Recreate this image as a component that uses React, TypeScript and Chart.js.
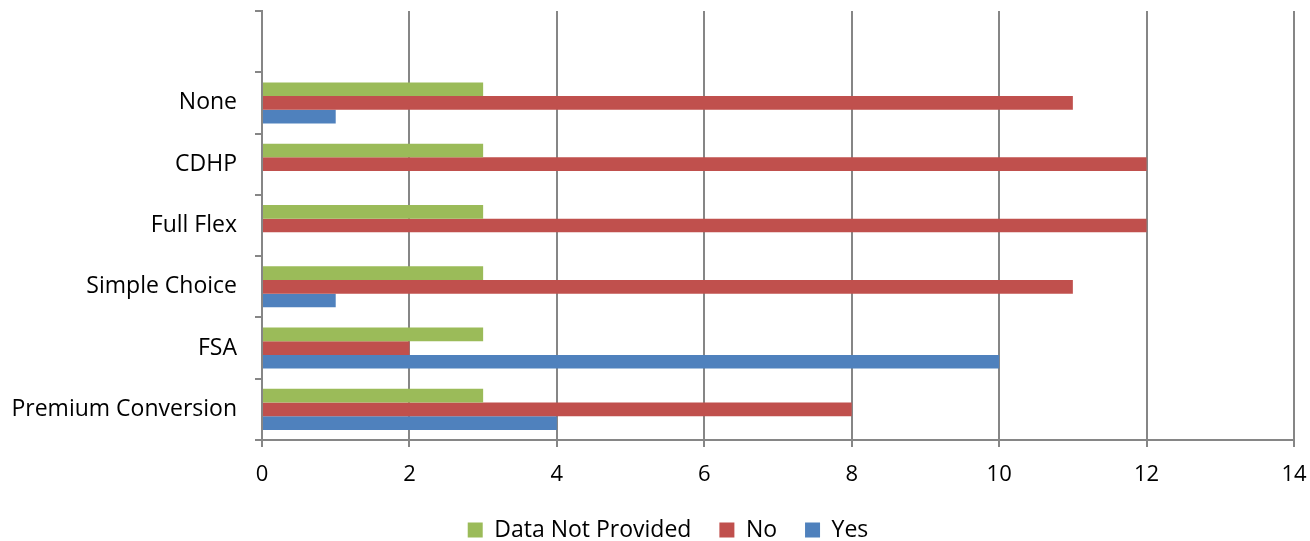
import React, { useEffect, useRef } from "react";
import { Chart, registerables } from "chart.js";

Chart.register(...registerables);

const categories = ["", "None", "CDHP", "Full Flex", "Simple Choice", "FSA", "Premium Conversion"];
const dataNotProvided = [null, 3, 3, 3, 3, 3, 3];
const noValues = [null, 11, 12, 12, 11, 2, 8];
const yesValues = [null, 1, 0, 0, 1, 10, 4];
const xTicks = [0, 2, 4, 6, 8, 10, 12, 14];

const FONT = "'Open Sans', 'Liberation Sans', sans-serif";
const GRID = "#868686";
const FS = 23;

const legendShift = {
  id: "legendShift",
  afterLayout(chart: any) {
    if (chart.legend) {
      chart.legend.left += 21;
      chart.legend.right += 21;
    }
  },
};

export default function App() {
  const ref = useRef<HTMLCanvasElement | null>(null);
  useEffect(() => {
    if (!ref.current) return;
    const chart = new Chart(ref.current, {
      type: "bar",
      data: {
        labels: categories,
        datasets: [
          { label: "Data Not Provided", data: dataNotProvided, backgroundColor: "#9BBB59" },
          { label: "No", data: noValues, backgroundColor: "#C0504D" },
          { label: "Yes", data: yesValues, backgroundColor: "#4F81BD" },
        ],
      },
      plugins: [legendShift],
      options: {
        indexAxis: "y",
        animation: false,
        responsive: false,
        maintainAspectRatio: false,
        datasets: { bar: { barPercentage: 1, categoryPercentage: 0.67 } },
        layout: { padding: { left: 0, right: 16, top: 11, bottom: -10.5 } },
        plugins: {
          tooltip: { enabled: false },
          legend: {
            position: "bottom",
            labels: {
              font: { family: FONT, size: FS },
              color: "#000",
              boxWidth: 15,
              boxHeight: 15,
              padding: 28,
            },
          },
        },
        scales: {
          x: {
            min: 0,
            max: 14,
            afterBuildTicks: (s: any) => {
              s.ticks = xTicks.map((v) => ({ value: v }));
            },
            afterFit: (s: any) => {
              s.height = 50.5;
              s.paddingLeft = 0;
              s.paddingRight = 0;
              s.paddingTop = 0;
              s.paddingBottom = 0;
              s._computeLabelArea = () => undefined;
            },
            border: { color: GRID, width: 2 },
            grid: { color: GRID, lineWidth: 2, tickLength: 7 },
            ticks: { font: { family: FONT, size: 22 }, color: "#000", padding: 15 },
          },
          y: {
            afterFit: (s: any) => {
              s.width = 262;
              s.paddingLeft = 0;
              s.paddingRight = 0;
              s.paddingTop = 0;
              s.paddingBottom = 0;
            },
            border: { color: GRID, width: 2 },
            grid: { color: GRID, lineWidth: 2, drawOnChartArea: false, tickLength: 7 },
            ticks: { font: { family: FONT, size: FS }, color: "#000", padding: 18 },
          },
        },
      },
    });
    return () => chart.destroy();
  }, []);
  return (
    <div style={{ position: "fixed", left: 0, top: 0, width: 1310, height: 541, background: "#fff" }}>
      <canvas ref={ref} width={1310} height={541} style={{ width: 1310, height: 541 }} />
    </div>
  );
}
